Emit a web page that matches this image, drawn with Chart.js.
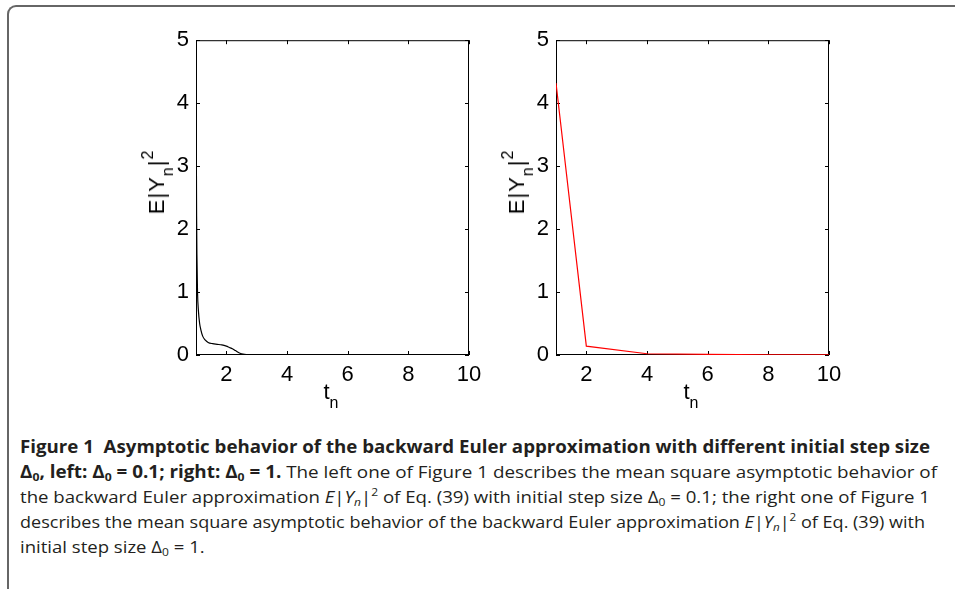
<!DOCTYPE html>
<html>
<head>
<meta charset="utf-8">
<script src="https://cdn.jsdelivr.net/npm/chart.js@4/dist/chart.umd.min.js"></script>
<style>
  body { margin: 0; background: #fff; width: 955px; height: 589px; overflow: hidden; position: relative; }
  #frame {
    position: absolute; left: 7px; top: 5px; width: 960px; height: 600px;
    border-top: 2px solid #666; border-left: 2px solid #666; border-top-left-radius: 9px;
  }
  .plot { position: absolute; top: 20px; }
  .ytitle, .xtitle {
    position: absolute; font-family: "Liberation Sans", Arial, Helvetica, sans-serif; font-size: 22px; color: #000;
    white-space: nowrap; line-height: 1;
  }
  .ytitle { transform: translate(-50%, -50%) rotate(-90deg); letter-spacing: 1px; }
  .xtitle { transform: translateX(-50%); }
  .ytitle sub, .xtitle sub { font-size: 16px; vertical-align: -9px; line-height: 0; }
  .ytitle sup { font-size: 16px; vertical-align: 11px; line-height: 0; }
  #caption {
    position: absolute; left: 20px; top: 434px; color: #231f20;
    font-family: "Open Sans", "Noto Sans", sans-serif;
    font-size: 17px; line-height: 25px;
  }
  #caption .ln { white-space: nowrap; display: block; width: max-content; transform-origin: 0 50%; }
  #caption b { font-weight: 700; }
  #caption sub, #caption sup { font-size: 11px; line-height: 0; }
  #caption sub { vertical-align: -3px; }
  #caption sup { vertical-align: 7px; }
</style>
</head>
<body>
<div id="frame"></div>

<div class="plot" style="left:130px"><canvas id="leftChart" width="360" height="380"></canvas></div>
<div class="plot" style="left:490px"><canvas id="rightChart" width="360" height="380"></canvas></div>

<div class="ytitle" style="left:157px; top:182px">E|Y<sub>n</sub>|<sup>2</sup></div>
<div class="ytitle" style="left:517px; top:182px">E|Y<sub>n</sub>|<sup>2</sup></div>
<div class="xtitle" style="left:331px; top:381px">t<sub>n</sub></div>
<div class="xtitle" style="left:691px; top:381px">t<sub>n</sub></div>

<div id="caption">
  <span class="ln" data-w="910"><b>Figure 1&nbsp; Asymptotic behavior of the backward Euler approximation with different initial step size</b></span>
  <span class="ln" data-w="917"><b>&Delta;<sub>0</sub>, left: &Delta;<sub>0</sub> = 0.1; right: &Delta;<sub>0</sub> = 1.</b> The left one of Figure 1 describes the mean square asymptotic behavior of</span>
  <span class="ln" data-w="910">the backward Euler approximation <i>E</i>|<i>Y<sub>n</sub></i>|<sup>2</sup> of Eq. (39) with initial step size &Delta;<sub>0</sub> = 0.1; the right one of Figure 1</span>
  <span class="ln" data-w="905">describes the mean square asymptotic behavior of the backward Euler approximation <i>E</i>|<i>Y<sub>n</sub></i>|<sup>2</sup> of Eq. (39) with</span>
  <span class="ln">initial step size &Delta;<sub>0</sub> = 1.</span>
</div>

<script>
// left panel, initial step size 0.1
const leftT = [1, 1.01, 1.02, 1.03, 1.05, 1.08, 1.12, 1.16, 1.22, 1.3, 1.4, 1.55, 1.7, 1.85, 2.0, 2.1, 2.2, 2.3, 2.4, 2.5, 2.6, 2.8, 3.0, 3.5, 4, 5, 6, 7, 8, 9, 10];
const leftY = [4.3, 3.4, 2.2, 1.6, 1.0, 0.7, 0.5, 0.4, 0.3, 0.24, 0.2, 0.18, 0.17, 0.16, 0.14, 0.12, 0.1, 0.07, 0.04, 0.02, 0.01, 0.006, 0.004, 0.003, 0.002, 0.001, 0.0005, 0.0003, 0.0002, 0.0001, 0.0001];

// right panel, initial step size 1
const rightT = [1, 2, 4, 6, 8, 10];
const rightY = [4.32, 0.14, 0.02, 0.01, 0.003, 0.001];

const xTicks = [2, 4, 6, 8, 10];
const yTicks = [0, 1, 2, 3, 4, 5];

// matlab-like box with inward tick marks on all sides
const boxPlugin = {
  id: "box",
  beforeDatasetsDraw(chart) {
    const { ctx, chartArea: a, scales } = chart;
    const len = 4;
    ctx.save();
    ctx.strokeStyle = "#000";
    ctx.lineWidth = 1;
    ctx.strokeRect(a.left + 0.5, a.top + 0.5, a.right - a.left - 1, a.bottom - a.top - 1);
    ctx.beginPath();
    scales.x.ticks.forEach((t) => {
      const px = Math.round(scales.x.getPixelForValue(t.value)) + 0.5;
      ctx.moveTo(px, a.bottom);
      ctx.lineTo(px, a.bottom - len);
      ctx.moveTo(px, a.top);
      ctx.lineTo(px, a.top + len);
    });
    scales.y.ticks.forEach((t) => {
      const py = Math.round(scales.y.getPixelForValue(t.value)) + 0.5;
      ctx.moveTo(a.left, py);
      ctx.lineTo(a.left + len, py);
      ctx.moveTo(a.right, py);
      ctx.lineTo(a.right - len, py);
    });
    ctx.stroke();
    ctx.restore();
  },
};

const makeConfig = (ts, ys, color, smooth) => ({
  type: "line",
  data: {
    datasets: [
      {
        data: ts.map((t, i) => ({ x: t, y: ys[i] })),
        borderColor: color,
        borderWidth: 1.2,
        pointRadius: 0,
        fill: false,
        tension: smooth ? 0.4 : 0,
        cubicInterpolationMode: smooth ? "monotone" : "default",
      },
    ],
  },
  options: {
    responsive: false,
    animation: false,
    layout: { padding: { top: 15, right: 21, left: 0, bottom: 0 } },
    plugins: { legend: { display: false }, tooltip: { enabled: false } },
    scales: {
      x: {
        type: "linear",
        min: 1,
        max: 10,
        grid: { display: false, drawTicks: false },
        border: { display: false },
        afterBuildTicks: (s) => { s.ticks = xTicks.map((v) => ({ value: v })); },
        afterFit: (s) => { s.height = 45; },
        ticks: { padding: 7, color: "#000", maxRotation: 0, font: { size: 22 } },
      },
      y: {
        min: 0,
        max: 5,
        grid: { display: false, drawTicks: false },
        border: { display: false },
        afterBuildTicks: (s) => { s.ticks = yTicks.map((v) => ({ value: v })); },
        afterFit: (s) => { s.width = 66; },
        ticks: { padding: 7, color: "#000", font: { size: 22 } },
      },
    },
  },
  plugins: [boxPlugin],
});

Chart.defaults.font.family = "'Liberation Sans', Arial, Helvetica, sans-serif";
new Chart(document.querySelector("#leftChart"), makeConfig(leftT, leftY, "#000000", true));
new Chart(document.querySelector("#rightChart"), makeConfig(rightT, rightY, "#ff0000", false));

// squeeze caption lines to the widths of the printed ones
const lines = [...document.querySelectorAll("#caption .ln")];
let scales = [];
lines.forEach((el) => {
  if (!el.dataset.w) return;
  const w = el.getBoundingClientRect().width;
  const k = Number(el.dataset.w) / w;
  scales.push(k);
  el.style.transform = `scaleX(${k})`;
});
const avg = scales.reduce((s, k) => s + k, 0) / scales.length;
lines.filter((el) => !el.dataset.w).forEach((el) => { el.style.transform = `scaleX(${avg})`; });
</script>
</body>
</html>
